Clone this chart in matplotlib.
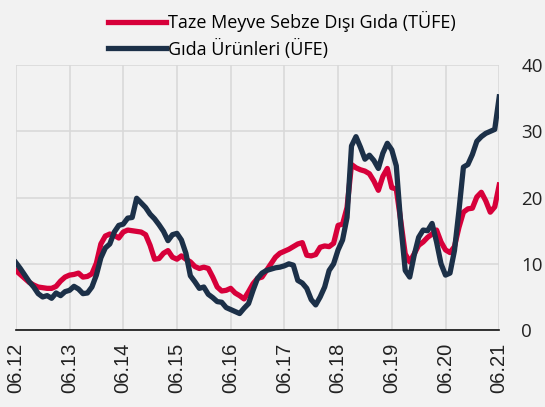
import matplotlib.pyplot as plt

plt.rcParams['font.family'] = ['Open Sans', 'DejaVu Sans']

# monthly, 06.2012 - 06.2021
tufe = [9.0, 8.4, 7.8, 7.2, 6.8, 6.5, 6.4, 6.3, 6.3, 6.6, 7.4, 8.0,
        8.3, 8.4, 8.6, 8.0, 8.1, 8.5, 10.1, 13.0, 14.2, 14.5, 14.3, 13.9,
        14.8, 15.1, 15.0, 14.9, 14.8, 14.4, 12.8, 10.7, 10.8, 11.6, 12.0, 11.0,
        10.7, 11.2, 10.7, 10.3, 9.6, 9.3, 9.5, 9.3, 8.0, 6.5, 5.9, 6.0,
        6.3, 5.6, 5.2, 4.7, 5.8, 7.0, 7.8, 8.0, 9.0, 10.0, 11.0, 11.6,
        11.9, 12.2, 12.6, 13.0, 13.2, 11.3, 11.2, 11.4, 12.5, 12.7, 12.6, 13.1,
        15.8, 16.0, 18.5, 25.0, 24.5, 24.2, 24.0, 23.6, 22.5, 21.1, 23.2, 24.4,
        21.5, 21.3, 16.5, 11.5, 10.3, 11.5, 12.8, 13.3, 14.0, 14.5, 15.1, 13.3,
        12.1, 11.7, 12.6, 15.5, 17.8, 18.3, 18.4, 20.1, 20.8, 19.5, 17.8, 18.6,
        21.9]
ufe = [10.2, 9.3, 8.3, 7.3, 6.5, 5.5, 5.0, 5.2, 4.8, 5.6, 5.2, 5.8,
       6.0, 6.6, 6.2, 5.5, 5.6, 6.5, 8.3, 10.9, 12.4, 13.0, 14.8, 15.8,
       16.0, 16.9, 17.0, 19.9, 19.2, 18.5, 17.5, 16.8, 15.9, 14.9, 13.5, 14.4,
       14.6, 13.6, 11.6, 8.2, 7.3, 6.3, 6.5, 5.4, 4.9, 4.3, 4.2, 3.4,
       3.1, 2.8, 2.5, 3.3, 4.0, 6.0, 7.8, 8.6, 9.0, 9.2, 9.4, 9.5,
       9.7, 10.0, 9.8, 7.5, 7.1, 6.3, 4.6, 3.8, 5.0, 6.5, 9.0, 10.0,
       12.1, 13.6, 17.0, 27.8, 29.2, 27.6, 25.8, 26.4, 25.6, 24.4, 26.7, 28.2,
       27.2, 24.8, 16.0, 9.0, 8.0, 11.3, 14.0, 15.1, 15.0, 16.1, 13.3, 10.0,
       8.3, 8.6, 12.0, 18.0, 24.6, 25.0, 26.5, 28.5, 29.2, 29.7, 30.0, 30.3,
       35.2]
year_labels = ['06.12', '06.13', '06.14', '06.15', '06.16',
               '06.17', '06.18', '06.19', '06.20', '06.21']

bg = '#f2f2f2'
fig = plt.figure(figsize=(5.45, 4.07), dpi=100, facecolor=bg)
ax = fig.add_axes([0.029, 0.189, 0.887, 0.651], facecolor=bg)

x = range(len(tufe))
ax.plot(x, tufe, color='#d7003a', lw=3.8, label='Taze Meyve Sebze Dışı Gıda (TÜFE)', zorder=3)
ax.plot(x, ufe, color='#1c3048', lw=3.8, label='Gıda Ürünleri (ÜFE)', zorder=4)

ax.set_xlim(0, 108)
ax.set_ylim(0, 40)
ax.set_xticks(range(0, 109, 12))
ax.set_xticklabels(year_labels, rotation=90, fontsize=14.5, color='#222222',
                   family=['Liberation Sans', 'DejaVu Sans'])
ax.set_yticks([0, 10, 20, 30, 40])
ax.yaxis.tick_right()
ax.tick_params(axis='y', length=0, labelsize=13.5, pad=16, colors='#222222')
ax.tick_params(axis='x', length=0, pad=9)
ax.grid(True, color='#d9d9d9', lw=1.2)
ax.set_axisbelow(True)
for s in ['top', 'left', 'right']:
    ax.spines[s].set_visible(False)
ax.spines['bottom'].set_color('#111111')
ax.spines['bottom'].set_linewidth(1.2)
ax.spines['bottom'].set_zorder(5)

fig.legend(loc='upper left', bbox_to_anchor=(0.168, 1.012), frameon=False,
           fontsize=13, handlelength=3.2, handletextpad=0.15, labelspacing=0.35)

plt.savefig('out.png', dpi=100, facecolor=bg)
